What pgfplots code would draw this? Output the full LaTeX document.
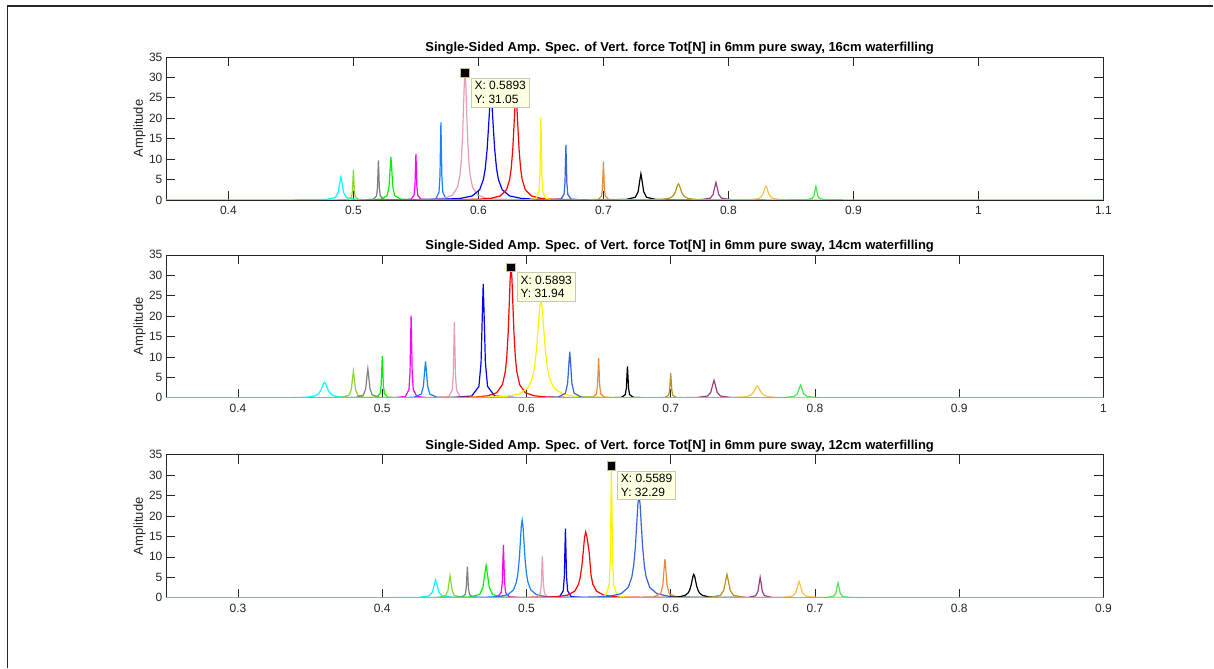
\documentclass[border=0pt]{standalone}
\usepackage{fontspec}
\setmainfont{Liberation Sans}
\usepackage{pgfplots}
\pgfplotsset{compat=1.18}
\definecolor{axc}{RGB}{38,38,38}
\definecolor{tipfill}{RGB}{255,255,225}
\definecolor{tipborder}{RGB}{200,200,180}
\definecolor{tipmk}{RGB}{205,190,140}
\definecolor{cCyan}{rgb}{0,1,1}
\definecolor{cYg}{rgb}{0.55,0.84,0.19}
\definecolor{cGray}{rgb}{0.5,0.5,0.5}
\definecolor{cGreen}{rgb}{0,0.95,0}
\definecolor{cMag}{rgb}{1,0,1}
\definecolor{cDodger}{rgb}{0.1,0.5,1}
\definecolor{cPink}{rgb}{0.9,0.62,0.7}
\definecolor{cBlue}{rgb}{0,0,1}
\definecolor{cRed}{rgb}{1,0,0}
\definecolor{cYellow}{rgb}{1,0.95,0}
\definecolor{cSteel}{rgb}{0.2,0.4,0.85}
\definecolor{cOrange}{rgb}{0.9,0.55,0.25}
\definecolor{cBlack}{rgb}{0,0,0}
\definecolor{cOlive}{rgb}{0.72,0.58,0.1}
\definecolor{cPurple}{rgb}{0.6,0.25,0.5}
\definecolor{cLorange}{rgb}{1,0.75,0.3}
\definecolor{cLgreen}{rgb}{0.3,0.9,0.3}
\pgfplotsset{
  specax/.style={
    width=938pt, height=143pt, scale only axis,
    anchor=south west,
    ymin=0, ymax=35, ytick={0,5,10,15,20,25,30,35},
    tick align=inside, major tick length=9pt,
    axis line style={axc, line width=0.7pt},
    tick style={axc, line width=0.7pt},
    every tick label/.append style={font=\fontsize{12}{14}\selectfont, text=axc},
    xticklabel style={yshift=-3pt},
    /pgf/number format/assume math mode=true,
    ylabel={Amplitude},
    ylabel style={font=\fontsize{13}{15}\selectfont, text=axc, at={(axis description cs:-0.018,0.5)}, anchor=south},
    title style={font=\bfseries\fontsize{13}{15}\selectfont, text=black, at={(axis description cs:0.548,1)}, anchor=south, yshift=-7pt},
    every axis plot/.append style={line width=1.2pt, mark=none},
  },
  tipmark/.style={only marks, mark=square*, mark size=4.3pt, mark options={fill=black, draw=tipmk, line width=0.9pt}},
}
\tikzset{tipbox/.style={anchor=north west, draw=tipborder, fill=tipfill, align=left, font=\fontsize{12}{13.5}\selectfont, inner sep=3.3pt, xshift=6pt, yshift=-5pt}}
\begin{document}
\begin{tikzpicture}[x=1pt,y=1pt]
\path (0,0) rectangle (1214,-668);
\draw[axc, line width=1.3pt] (7.3,-668) -- (7.3,-6) -- (1214,-6);

% ===================== TOP: 16 cm =====================
\begin{axis}[specax, at={(166pt,-200pt)}, xmin=0.35, xmax=1.1,
  xtick={0.4,0.5,0.6,0.7,0.8,0.9,1,1.1}, xticklabels={0.4,0.5,0.6,0.7,0.8,0.9,1,1.1},
  title={Single-Sided Amp. Spec. of Vert. force Tot[N] in 6mm pure sway, 16cm waterfilling}]
\addplot[cCyan] coordinates {(0.4525,0)(0.478,0.086)(0.4855,0.56)(0.48775,1.74)(0.4891,4.14)(0.490,5.6)(0.4909,4.14)(0.49225,1.74)(0.4945,0.56)(0.502,0.086)(0.5275,0)};
\addplot[cYg] coordinates {(0.4875,0)(0.496,0.114)(0.4985,0.74)(0.49925,2.29)(0.4997,5.48)(0.500,7.4)(0.5003,5.48)(0.50075,2.29)(0.5015,0.74)(0.504,0.114)(0.5125,0)};
\addplot[cGray] coordinates {(0.5075,0)(0.516,0.149)(0.5185,0.97)(0.51925,3.01)(0.5197,7.18)(0.520,9.7)(0.5203,7.18)(0.52075,3.01)(0.5215,0.97)(0.524,0.149)(0.5325,0)};
\addplot[cGreen] coordinates {(0.505,0)(0.522,0.162)(0.527,1.05)(0.5285,3.26)(0.5294,7.77)(0.530,10.5)(0.5306,7.77)(0.5315,3.26)(0.533,1.05)(0.538,0.162)(0.555,0)};
\addplot[cMag] coordinates {(0.5375,0)(0.546,0.172)(0.5485,1.12)(0.54925,3.47)(0.5497,8.29)(0.550,11.2)(0.5503,8.29)(0.55075,3.47)(0.5515,1.12)(0.554,0.172)(0.5625,0)};
\addplot[cDodger] coordinates {(0.5575,0)(0.566,0.293)(0.5685,1.9)(0.56925,5.89)(0.5697,14.06)(0.570,19.0)(0.5703,14.06)(0.57075,5.89)(0.5715,1.9)(0.574,0.293)(0.5825,0)};
\addplot[cPink] coordinates {(0.5093,0)(0.5493,0.078)(0.5653,0.214)(0.5733,0.478)(0.5793,1.195)(0.5833,3.105)(0.5853,6.21)(0.5863,9.56)(0.5873,15.53)(0.5881,22.82)(0.5887,28.47)(0.5893,31.05)(0.5899,28.47)(0.5905,22.82)(0.5913,15.53)(0.5923,9.56)(0.5933,6.21)(0.5953,3.105)(0.5993,1.195)(0.6053,0.478)(0.6133,0.214)(0.6293,0.078)(0.6693,0)};
\addplot[cBlue] coordinates {(0.510,0)(0.550,0.0625)(0.574,0.1725)(0.586,0.385)(0.595,0.9625)(0.601,2.5)(0.604,5)(0.6055,7.7)(0.607,12.5)(0.6082,18.375)(0.6091,22.925)(0.610,25)(0.6109,22.925)(0.6118,18.375)(0.613,12.5)(0.6145,7.7)(0.616,5)(0.619,2.5)(0.625,0.9625)(0.634,0.385)(0.646,0.1725)(0.670,0.0625)(0.710,0)};
\addplot[cRed] coordinates {(0.550,0)(0.580,0.0625)(0.600,0.1725)(0.610,0.385)(0.6175,0.9625)(0.6225,2.5)(0.625,5)(0.62625,7.7)(0.6275,12.5)(0.6285,18.375)(0.62925,22.925)(0.630,25)(0.63075,22.925)(0.6315,18.375)(0.6325,12.5)(0.63375,7.7)(0.635,5)(0.6375,2.5)(0.6425,0.9625)(0.650,0.385)(0.660,0.1725)(0.680,0.0625)(0.710,0)};
\addplot[cYellow] coordinates {(0.6375,0)(0.646,0.311)(0.6485,2.02)(0.64925,6.26)(0.6497,14.95)(0.650,20.2)(0.6503,14.95)(0.65075,6.26)(0.6515,2.02)(0.654,0.311)(0.6625,0)};
\addplot[cSteel] coordinates {(0.6575,0)(0.666,0.208)(0.6685,1.35)(0.66925,4.19)(0.6697,9.99)(0.670,13.5)(0.6703,9.99)(0.67075,4.19)(0.6715,1.35)(0.674,0.208)(0.6825,0)};
\addplot[cOrange] coordinates {(0.6875,0)(0.696,0.145)(0.6985,0.94)(0.69925,2.91)(0.6997,6.96)(0.700,9.4)(0.7003,6.96)(0.70075,2.91)(0.7015,0.94)(0.704,0.145)(0.7125,0)};
\addplot[cBlack] coordinates {(0.6925,0)(0.718,0.099)(0.7255,0.64)(0.72775,1.98)(0.7291,4.74)(0.730,6.4)(0.7309,4.74)(0.73225,1.98)(0.7345,0.64)(0.742,0.099)(0.7675,0)};
\addplot[cOlive] coordinates {(0.690,0)(0.710,0.01)(0.730,0.027)(0.740,0.06)(0.7475,0.15)(0.7525,0.39)(0.755,0.78)(0.75625,1.2)(0.7575,1.95)(0.7585,2.87)(0.75925,3.58)(0.760,3.9)(0.76075,3.58)(0.7615,2.87)(0.7625,1.95)(0.76375,1.2)(0.765,0.78)(0.7675,0.39)(0.7725,0.15)(0.780,0.06)(0.790,0.027)(0.810,0.01)(0.830,0)};
\addplot[cPurple] coordinates {(0.7525,0)(0.778,0.066)(0.7855,0.43)(0.78775,1.33)(0.7891,3.18)(0.790,4.3)(0.7909,3.18)(0.79225,1.33)(0.7945,0.43)(0.802,0.066)(0.8275,0)};
\addplot[cLorange] coordinates {(0.770,0)(0.790,0.0085)(0.806,0.023)(0.814,0.052)(0.820,0.131)(0.824,0.34)(0.826,0.68)(0.827,1.05)(0.828,1.7)(0.8288,2.5)(0.8294,3.12)(0.830,3.4)(0.8306,3.12)(0.8312,2.5)(0.832,1.7)(0.833,1.05)(0.834,0.68)(0.836,0.34)(0.840,0.131)(0.846,0.052)(0.854,0.023)(0.870,0.0085)(0.890,0)};
\addplot[cLgreen] coordinates {(0.35,0)(0.845,0)(0.862,0.051)(0.867,0.33)(0.8685,1.02)(0.8694,2.44)(0.870,3.3)(0.8706,2.44)(0.8715,1.02)(0.873,0.33)(0.878,0.051)(0.895,0)(1.1,0)};
\addplot[tipmark] coordinates {(0.5893,31.05)};
\node[tipbox] at (axis cs:0.5893,31.05) {X: 0.5893\\Y: 31.05};
\end{axis}

% ===================== MIDDLE: 14 cm =====================
\begin{axis}[specax, at={(166pt,-398pt)}, xmin=0.35, xmax=1,
  xtick={0.4,0.5,0.6,0.7,0.8,0.9,1}, xticklabels={0.4,0.5,0.6,0.7,0.8,0.9,1},
  title={Single-Sided Amp. Spec. of Vert. force Tot[N] in 6mm pure sway, 14cm waterfilling}]
\addplot[cCyan] coordinates {(0.390,0)(0.410,0.0095)(0.430,0.026)(0.440,0.059)(0.4475,0.146)(0.4525,0.38)(0.455,0.76)(0.45625,1.17)(0.4575,1.9)(0.4585,2.79)(0.45925,3.48)(0.460,3.8)(0.46075,3.48)(0.4615,2.79)(0.4625,1.9)(0.46375,1.17)(0.465,0.76)(0.4675,0.38)(0.4725,0.146)(0.480,0.059)(0.490,0.026)(0.510,0.0095)(0.530,0)};
\addplot[cYg] coordinates {(0.455,0)(0.472,0.1)(0.477,0.65)(0.4785,2.02)(0.4794,4.81)(0.480,6.5)(0.4806,4.81)(0.4815,2.02)(0.483,0.65)(0.488,0.1)(0.505,0)};
\addplot[cGray] coordinates {(0.465,0)(0.482,0.109)(0.487,0.71)(0.4885,2.2)(0.4894,5.25)(0.490,7.1)(0.4906,5.25)(0.4915,2.2)(0.493,0.71)(0.498,0.109)(0.515,0)};
\addplot[cGreen] coordinates {(0.4875,0)(0.496,0.157)(0.4985,1.02)(0.49925,3.16)(0.4997,7.55)(0.500,10.2)(0.5003,7.55)(0.50075,3.16)(0.5015,1.02)(0.504,0.157)(0.5125,0)};
\addplot[cMag] coordinates {(0.5075,0)(0.516,0.31)(0.5185,2.01)(0.51925,6.23)(0.5197,14.87)(0.520,20.1)(0.5203,14.87)(0.52075,6.23)(0.5215,2.01)(0.524,0.31)(0.5325,0)};
\addplot[cDodger] coordinates {(0.505,0)(0.522,0.137)(0.527,0.89)(0.5285,2.76)(0.5294,6.59)(0.530,8.9)(0.5306,6.59)(0.5315,2.76)(0.533,0.89)(0.538,0.137)(0.555,0)};
\addplot[cPink] coordinates {(0.5375,0)(0.546,0.286)(0.5485,1.86)(0.54925,5.77)(0.5497,13.76)(0.550,18.6)(0.5503,13.76)(0.55075,5.77)(0.5515,1.86)(0.554,0.286)(0.5625,0)};
\addplot[cBlue] coordinates {(0.545,0)(0.562,0.43)(0.567,2.79)(0.5685,8.65)(0.5694,20.65)(0.570,27.9)(0.5706,20.65)(0.5715,8.65)(0.573,2.79)(0.578,0.43)(0.595,0)};
\addplot[cRed] coordinates {(0.5093,0)(0.5493,0.08)(0.5653,0.22)(0.5733,0.49)(0.5793,1.23)(0.5833,3.19)(0.5853,6.39)(0.5863,9.84)(0.5873,15.97)(0.5881,23.48)(0.5887,29.29)(0.5893,31.94)(0.5899,29.29)(0.5905,23.48)(0.5913,15.97)(0.5923,9.84)(0.5933,6.39)(0.5953,3.19)(0.5993,1.23)(0.6053,0.49)(0.6133,0.22)(0.6293,0.08)(0.6693,0)};
\addplot[cYellow] coordinates {(0.510,0)(0.550,0.06)(0.574,0.166)(0.586,0.37)(0.595,0.924)(0.601,2.4)(0.604,4.8)(0.6055,7.39)(0.607,12)(0.6082,17.64)(0.6091,22.01)(0.610,24)(0.6109,22.01)(0.6118,17.64)(0.613,12)(0.6145,7.39)(0.616,4.8)(0.619,2.4)(0.625,0.924)(0.634,0.37)(0.646,0.166)(0.670,0.06)(0.710,0)};
\addplot[cSteel] coordinates {(0.605,0)(0.622,0.174)(0.627,1.13)(0.6285,3.5)(0.6294,8.36)(0.630,11.3)(0.6306,8.36)(0.6315,3.5)(0.633,1.13)(0.638,0.174)(0.655,0)};
\addplot[cOrange] coordinates {(0.6375,0)(0.646,0.149)(0.6485,0.97)(0.64925,3.01)(0.6497,7.18)(0.650,9.7)(0.6503,7.18)(0.65075,3.01)(0.6515,0.97)(0.654,0.149)(0.6625,0)};
\addplot[cBlack] coordinates {(0.6575,0)(0.666,0.119)(0.6685,0.77)(0.66925,2.39)(0.6697,5.7)(0.670,7.7)(0.6703,5.7)(0.67075,2.39)(0.6715,0.77)(0.674,0.119)(0.6825,0)};
\addplot[cOlive] coordinates {(0.6875,0)(0.696,0.092)(0.6985,0.6)(0.69925,1.86)(0.6997,4.44)(0.700,6.0)(0.7003,4.44)(0.70075,1.86)(0.7015,0.6)(0.704,0.092)(0.7125,0)};
\addplot[cPurple] coordinates {(0.6925,0)(0.718,0.066)(0.7255,0.43)(0.72775,1.33)(0.7291,3.18)(0.730,4.3)(0.7309,3.18)(0.73225,1.33)(0.7345,0.43)(0.742,0.066)(0.7675,0)};
\addplot[cLorange] coordinates {(0.690,0)(0.710,0.007)(0.730,0.02)(0.740,0.045)(0.7475,0.112)(0.7525,0.29)(0.755,0.58)(0.75625,0.89)(0.7575,1.45)(0.7585,2.13)(0.75925,2.66)(0.760,2.9)(0.76075,2.66)(0.7615,2.13)(0.7625,1.45)(0.76375,0.89)(0.765,0.58)(0.7675,0.29)(0.7725,0.112)(0.780,0.045)(0.790,0.02)(0.810,0.007)(0.830,0)};
\addplot[cLgreen] coordinates {(0.35,0)(0.7525,0)(0.778,0.048)(0.7855,0.31)(0.78775,0.96)(0.7891,2.29)(0.790,3.1)(0.7909,2.29)(0.79225,0.96)(0.7945,0.31)(0.802,0.048)(0.8275,0)(1.0,0)};
\addplot[tipmark] coordinates {(0.5893,31.94)};
\node[tipbox] at (axis cs:0.5893,31.94) {X: 0.5893\\Y: 31.94};
\end{axis}

% ===================== BOTTOM: 12 cm =====================
\begin{axis}[specax, at={(166pt,-598pt)}, xmin=0.25, xmax=0.9,
  xtick={0.3,0.4,0.5,0.6,0.7,0.8,0.9}, xticklabels={0.3,0.4,0.5,0.6,0.7,0.8,0.9},
  title={Single-Sided Amp. Spec. of Vert. force Tot[N] in 6mm pure sway, 12cm waterfilling}]
\addplot[cCyan] coordinates {(0.3995,0)(0.425,0.068)(0.4325,0.44)(0.43475,1.36)(0.4361,3.26)(0.437,4.4)(0.4379,3.26)(0.43925,1.36)(0.4415,0.44)(0.449,0.068)(0.4745,0)};
\addplot[cYg] coordinates {(0.422,0)(0.439,0.083)(0.444,0.54)(0.4455,1.67)(0.4464,4.0)(0.447,5.4)(0.4476,4.0)(0.4485,1.67)(0.450,0.54)(0.455,0.083)(0.472,0)};
\addplot[cGray] coordinates {(0.4465,0)(0.455,0.117)(0.4575,0.76)(0.45825,2.36)(0.4587,5.62)(0.459,7.6)(0.4593,5.62)(0.45975,2.36)(0.4605,0.76)(0.463,0.117)(0.4715,0)};
\addplot[cGreen] coordinates {(0.4345,0)(0.460,0.122)(0.4675,0.79)(0.46975,2.45)(0.4711,5.85)(0.472,7.9)(0.4729,5.85)(0.47425,2.45)(0.4765,0.79)(0.484,0.122)(0.5095,0)};
\addplot[cMag] coordinates {(0.4715,0)(0.480,0.199)(0.4825,1.29)(0.48325,4.0)(0.4837,9.55)(0.484,12.9)(0.4843,9.55)(0.48475,4.0)(0.4855,1.29)(0.488,0.199)(0.4965,0)};
\addplot[cDodger] coordinates {(0.420,0)(0.457,0.0475)(0.473,0.131)(0.481,0.293)(0.487,0.73)(0.491,1.9)(0.493,3.8)(0.494,5.85)(0.495,9.5)(0.4958,13.97)(0.4964,17.42)(0.497,19.0)(0.4976,17.42)(0.4982,13.97)(0.499,9.5)(0.500,5.85)(0.501,3.8)(0.503,1.9)(0.507,0.73)(0.513,0.293)(0.521,0.131)(0.537,0.0475)(0.570,0)};
\addplot[cPink] coordinates {(0.4985,0)(0.507,0.156)(0.5095,1.01)(0.51025,3.13)(0.5107,7.47)(0.511,10.1)(0.5113,7.47)(0.51175,3.13)(0.5125,1.01)(0.515,0.156)(0.5235,0)};
\addplot[cBlue] coordinates {(0.5145,0)(0.523,0.26)(0.5255,1.69)(0.52625,5.24)(0.5267,12.51)(0.527,16.9)(0.5273,12.51)(0.52775,5.24)(0.5285,1.69)(0.531,0.26)(0.5395,0)};
\addplot[cRed] coordinates {(0.465,0)(0.491,0.04)(0.511,0.111)(0.521,0.248)(0.5285,0.62)(0.5335,1.61)(0.536,3.22)(0.53725,4.96)(0.5385,8.05)(0.5395,11.83)(0.54025,14.76)(0.541,16.1)(0.54175,15.2)(0.5425,13.5)(0.5435,11.0)(0.54475,5.5)(0.546,3.3)(0.5485,1.61)(0.5535,0.62)(0.561,0.248)(0.571,0.111)(0.591,0.04)(0.615,0)};
\addplot[cYellow] coordinates {(0.5464,0)(0.5549,0.497)(0.5574,3.23)(0.55815,10.01)(0.5586,23.89)(0.5589,32.29)(0.5592,23.89)(0.55965,10.01)(0.5604,3.23)(0.5629,0.497)(0.5714,0)};
\addplot[cSteel] coordinates {(0.500,0)(0.528,0.0625)(0.548,0.1725)(0.558,0.385)(0.5655,0.9625)(0.5705,2.5)(0.573,5)(0.57425,7.7)(0.5755,12.5)(0.5765,18.375)(0.57725,22.925)(0.578,25)(0.57875,22.925)(0.5795,18.375)(0.5805,12.5)(0.58175,7.7)(0.583,5)(0.5855,2.5)(0.5905,0.9625)(0.598,0.385)(0.608,0.1725)(0.628,0.0625)(0.655,0)};
\addplot[cOrange] coordinates {(0.571,0)(0.588,0.146)(0.593,0.95)(0.5945,2.95)(0.5954,7.03)(0.596,9.5)(0.5966,7.03)(0.5975,2.95)(0.599,0.95)(0.604,0.146)(0.621,0)};
\addplot[cBlack] coordinates {(0.555,0)(0.576,0.014)(0.592,0.039)(0.600,0.088)(0.606,0.22)(0.610,0.57)(0.612,1.14)(0.613,1.76)(0.614,2.85)(0.6148,4.19)(0.6154,5.23)(0.616,5.7)(0.6166,5.23)(0.6172,4.19)(0.618,2.85)(0.619,1.76)(0.620,1.14)(0.622,0.57)(0.626,0.22)(0.632,0.088)(0.640,0.039)(0.656,0.014)(0.675,0)};
\addplot[cOlive] coordinates {(0.6015,0)(0.627,0.088)(0.6345,0.57)(0.63675,1.77)(0.6381,4.22)(0.639,5.7)(0.6399,4.22)(0.64125,1.77)(0.6435,0.57)(0.651,0.088)(0.6765,0)};
\addplot[cPurple] coordinates {(0.637,0)(0.654,0.077)(0.659,0.5)(0.6605,1.55)(0.6614,3.7)(0.662,5.0)(0.6626,3.7)(0.6635,1.55)(0.665,0.5)(0.670,0.077)(0.687,0)};
\addplot[cLorange] coordinates {(0.6515,0)(0.677,0.062)(0.6845,0.4)(0.68675,1.24)(0.6881,2.96)(0.689,4.0)(0.6899,2.96)(0.69125,1.24)(0.6935,0.4)(0.701,0.062)(0.7265,0)};
\addplot[cLgreen] coordinates {(0.25,0)(0.691,0)(0.708,0.055)(0.713,0.36)(0.7145,1.12)(0.7154,2.66)(0.716,3.6)(0.7166,2.66)(0.7175,1.12)(0.719,0.36)(0.724,0.055)(0.741,0)(0.9,0)};
\addplot[tipmark] coordinates {(0.5589,32.29)};
\node[tipbox] at (axis cs:0.5589,32.29) {X: 0.5589\\Y: 32.29};
\end{axis}
\end{tikzpicture}
\end{document}
